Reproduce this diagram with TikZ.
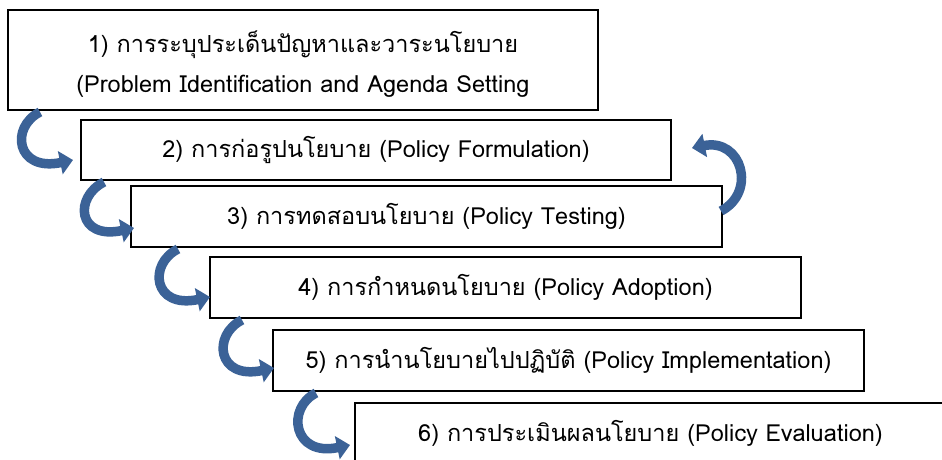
\documentclass[tikz,border=0pt]{standalone}
\usepackage{fontspec}
\newfontfamily\thai[Script=Thai]{Loma}
\usetikzlibrary{arrows.meta,calc}
\definecolor{arrblue}{RGB}{59,98,151}
\tikzset{
  stagefont/.style={font=\thai\fontsize{23.5}{40}\selectfont},
  stagebox/.style={draw=black, line width=2pt, rectangle, inner sep=0pt, align=center, stagefont},
  curvearrow/.style={draw=arrblue, line width=9.5pt, -{Triangle[width=23pt,length=13pt]}},
}
\begin{document}
\begin{tikzpicture}[x=1pt,y=-1pt]
\useasboundingbox (0,0) rectangle (942,460);
\clip (0,0) rectangle (942,460);
\fill[white] (0,0) rectangle (942,460);
\node[stagebox, minimum width=590pt, minimum height=100pt] (b1) at (303,60) {};
\node[stagefont, align=center] (t1) at (303,64) {1) การระบุประเด็นปัญหาและวาระนโยบาย\\(Problem Identification and Agenda Setting};
\node[stagebox, minimum width=590pt, minimum height=60pt] (b2) at (376,150) {2) การก่อรูปนโยบาย (Policy Formulation)};
\node[stagebox, minimum width=591pt, minimum height=61pt] (b3) at (426.5,216.5) {3) การทดสอบนโยบาย (Policy Testing)};
\node[stagebox, minimum width=591pt, minimum height=61pt] (b4) at (505.5,287.5) {4) การกำหนดนโยบาย (Policy Adoption)};
\node[stagebox, minimum width=591pt, minimum height=61pt] (b5) at (568.5,360.5) {5) การนำนโยบายไปปฏิบัติ (Policy Implementation)};
\node[stagebox, minimum width=591pt, minimum height=61pt] (b6) at (650.5,433.5) {6) การประเมินผลนโยบาย (Policy Evaluation)};
% connector end points
\coordinate (s1) at (40,112);  \coordinate (e1) at (73,160);
\coordinate (s2) at (104,182); \coordinate (e2) at (134,228);
\coordinate (s3) at (178,249); \coordinate (e3) at (210,297);
\coordinate (s4) at (242,320); \coordinate (e4) at (274,368);
\coordinate (s5) at (316,393); \coordinate (e5) at (350,445);
\coordinate (sr) at (721,211); \coordinate (er) at (692,148);
\foreach \i in {1,...,5}{
  \draw[curvearrow] (s\i) .. controls +(-30,15) and +(-57,12) .. (e\i);
}
\draw[curvearrow] (sr) .. controls (757,192) and (742,138) .. (er);
\end{tikzpicture}
\end{document}
